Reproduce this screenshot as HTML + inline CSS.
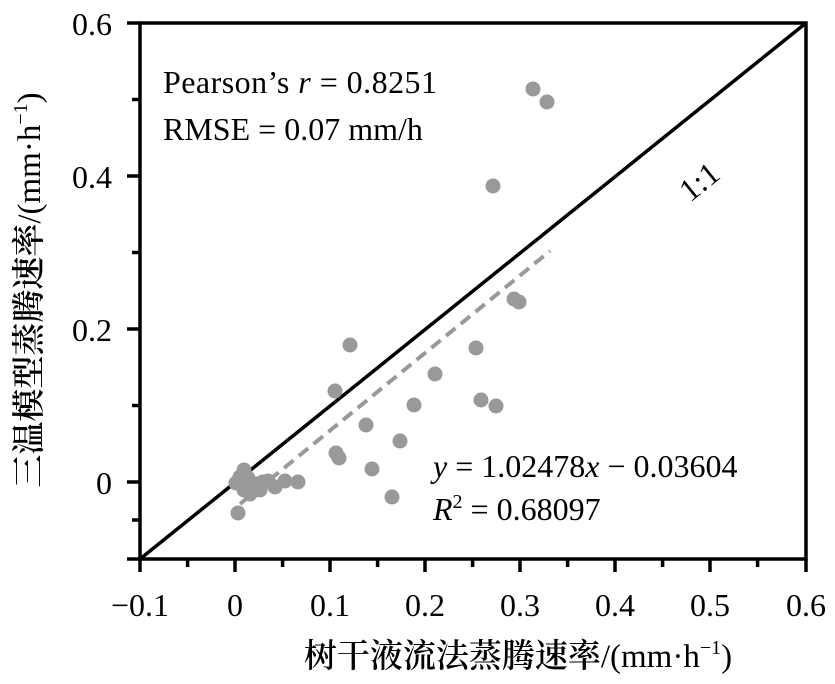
<!DOCTYPE html><html><head><meta charset="utf-8"><style>body{margin:0;background:#fff}</style></head><body>
<svg width="835" height="679" xmlns="http://www.w3.org/2000/svg" font-family="'Liberation Serif','Noto Serif CJK SC',serif">
<rect width="835" height="679" fill="#fff"/>
<g stroke="#000" stroke-width="3.5" fill="none">
<rect x="140" y="23" width="666" height="536"/>
<path d="M140 23H127M140 99.5H132M140 176H127M140 252.5H132M140 329H127M140 405.5H132M140 482H127M140 520H132M140 559H127"/>
<path d="M140 559V572M187.6 559V567M235 559V572M282.6 559V567M330 559V572M377.6 559V567M425 559V572M472.6 559V567M520 559V572M567.6 559V567M615 559V572M662.6 559V567M710 559V572M757.6 559V567M806 559V572"/>
<line x1="140" y1="559" x2="806" y2="23"/>
</g>
<line x1="240" y1="504" x2="550" y2="251" stroke="#999" stroke-width="4" stroke-dasharray="12,7"/>
<g fill="#999">
<circle cx="533" cy="89" r="7.5"/><circle cx="547" cy="102" r="7.5"/><circle cx="493" cy="186" r="7.5"/><circle cx="514" cy="299" r="7.5"/><circle cx="519" cy="302" r="7.5"/><circle cx="476" cy="348" r="7.5"/><circle cx="350" cy="345" r="7.5"/><circle cx="335" cy="391" r="7.5"/><circle cx="435" cy="374" r="7.5"/><circle cx="366" cy="425" r="7.5"/><circle cx="414" cy="405" r="7.5"/><circle cx="481" cy="400" r="7.5"/><circle cx="496" cy="406" r="7.5"/><circle cx="400" cy="441" r="7.5"/><circle cx="336" cy="453" r="7.5"/><circle cx="339" cy="458" r="7.5"/><circle cx="372" cy="469" r="7.5"/><circle cx="392" cy="497" r="7.5"/><circle cx="298" cy="482" r="7.5"/><circle cx="285" cy="481" r="7.5"/><circle cx="275" cy="487" r="7.5"/><circle cx="263" cy="482" r="7.5"/><circle cx="256" cy="484" r="7.5"/><circle cx="248" cy="478" r="7.5"/><circle cx="244" cy="470" r="7.5"/><circle cx="241" cy="484" r="7.5"/><circle cx="238" cy="513" r="7.5"/><circle cx="244" cy="490" r="7.5"/><circle cx="250" cy="494" r="7.5"/><circle cx="236" cy="483" r="7.5"/><circle cx="240" cy="477" r="7.5"/><circle cx="260" cy="490" r="7.5"/><circle cx="268" cy="481" r="7.5"/>
</g>
<g font-size="32" fill="#000">
<g text-anchor="end"><text x="112" y="35">0.6</text><text x="112" y="188">0.4</text><text x="112" y="341">0.2</text><text x="112" y="494">0</text></g>
<g text-anchor="middle"><text x="140" y="616">−0.1</text><text x="235" y="616">0</text><text x="330" y="616">0.1</text><text x="425" y="616">0.2</text><text x="520" y="616">0.3</text><text x="615" y="616">0.4</text><text x="710" y="616">0.5</text><text x="806" y="616">0.6</text></g>
<text x="163" y="93" textLength="274">Pearson’s <tspan font-style="italic">r</tspan> = 0.8251</text>
<text x="163" y="140">RMSE = 0.07 mm/h</text>
<text x="433" y="477"><tspan font-style="italic">y</tspan> = 1.02478<tspan font-style="italic">x</tspan> − 0.03604</text>
<text x="433" y="520"><tspan font-style="italic">R</tspan><tspan font-size="20" dy="-12">2</tspan><tspan dy="12"> = 0.68097</tspan></text>
<text transform="translate(706,190) rotate(-39)" text-anchor="middle">1:1</text>
<text x="518" y="667" text-anchor="middle" font-size="33"><tspan font-weight="600">树干液流法蒸腾速率</tspan>/(mm·h<tspan font-size="20" dy="-13">−1</tspan><tspan dy="13">)</tspan></text>
<text transform="translate(40,290) rotate(-90)" text-anchor="middle" font-size="33"><tspan font-weight="600">三温模型蒸腾速率</tspan>/(mm·h<tspan font-size="20" dy="-13">−1</tspan><tspan dy="13">)</tspan></text>
</g>
</svg>
</body></html>
